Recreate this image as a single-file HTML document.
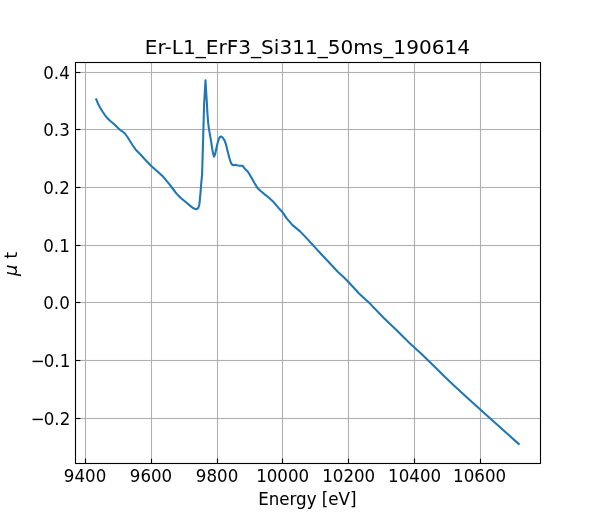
<!DOCTYPE html>
<html lang="en"><head><meta charset="utf-8"><title>Er-L1_ErF3_Si311_50ms_190614</title>
<style>html,body{margin:0;padding:0;background:#fff;overflow:hidden}svg{display:block}text{font-family:"DejaVu Sans","Liberation Sans",sans-serif;fill:#000}</style></head><body>
<svg width="600" height="520" viewBox="0 0 600 520">
<rect x="0" y="0" width="600" height="520" fill="#ffffff"/>
<g stroke="#b0b0b0" stroke-width="1.111" fill="none">
<line x1="85.5" y1="62.5" x2="85.5" y2="463.5"/>
<line x1="151.5" y1="62.5" x2="151.5" y2="463.5"/>
<line x1="217.5" y1="62.5" x2="217.5" y2="463.5"/>
<line x1="282.5" y1="62.5" x2="282.5" y2="463.5"/>
<line x1="348.5" y1="62.5" x2="348.5" y2="463.5"/>
<line x1="414.5" y1="62.5" x2="414.5" y2="463.5"/>
<line x1="480.5" y1="62.5" x2="480.5" y2="463.5"/>
<rect x="75.5" y="71.945" width="465" height="1.111" fill="#b0b0b0" stroke="none"/>
<rect x="75.5" y="128.945" width="465" height="1.111" fill="#b0b0b0" stroke="none"/>
<rect x="75.5" y="186.945" width="465" height="1.111" fill="#b0b0b0" stroke="none"/>
<rect x="75.5" y="244.945" width="465" height="1.111" fill="#b0b0b0" stroke="none"/>
<rect x="75.5" y="301.945" width="465" height="1.111" fill="#b0b0b0" stroke="none"/>
<rect x="75.5" y="359.945" width="465" height="1.111" fill="#b0b0b0" stroke="none"/>
<rect x="75.5" y="417.945" width="465" height="1.111" fill="#b0b0b0" stroke="none"/>
</g>
<polyline fill="none" stroke="#1f77b4" stroke-width="2.083" stroke-linejoin="round" stroke-linecap="square" points="96.25,99.40 98.00,103.50 100.00,107.50 102.50,111.50 105.00,115.30 107.50,118.30 110.00,120.80 112.50,122.80 115.00,125.00 117.50,127.50 120.00,129.80 122.50,131.50 125.00,133.50 126.00,135.00 127.50,137.00 129.00,139.50 132.50,145.00 136.00,150.00 140.00,154.00 145.00,159.50 151.50,166.20 157.50,171.50 163.00,176.60 166.00,180.20 169.50,184.40 173.00,189.00 176.50,193.60 180.50,197.80 186.00,202.30 190.00,205.60 193.30,208.20 196.25,209.30 198.30,207.90 199.40,204.20 200.00,198.30 200.60,191.70 201.10,185.00 201.70,178.30 202.10,175.00 202.40,163.40 203.10,140.00 203.60,122.00 204.10,105.00 204.80,92.00 205.50,80.40 206.20,92.00 207.00,105.00 207.30,111.70 207.80,118.50 208.30,123.90 209.00,129.20 210.05,135.40 211.10,141.40 212.10,148.20 213.10,153.60 214.10,156.60 215.10,154.20 216.10,149.50 217.50,143.50 218.80,138.80 220.20,136.70 221.20,136.60 222.80,137.70 224.50,140.40 225.90,144.10 227.20,149.50 228.60,154.90 229.70,159.00 230.70,162.40 232.10,164.60 233.40,165.20 235.10,164.80 237.10,165.30 239.50,165.70 241.50,165.80 242.80,165.90 244.20,167.80 245.90,169.80 247.90,171.80 249.60,174.50 251.90,178.60 254.60,183.30 257.70,188.30 261.00,191.30 265.00,194.60 269.00,197.70 273.00,201.40 278.30,207.70 282.60,212.30 286.70,218.40 292.50,225.10 300.10,231.40 306.80,238.40 313.40,245.60 321.80,254.80 331.00,264.50 338.00,272.00 343.00,276.50 348.50,282.00 354.00,288.00 359.00,293.50 365.00,299.00 370.00,303.60 383.30,317.50 396.70,330.30 410.00,343.50 421.30,353.70 427.70,360.00 434.40,366.60 445.00,377.00 455.00,386.50 470.00,400.20 485.00,413.80 518.70,443.95"/>
<g stroke="#000" stroke-width="1.111" fill="none">
<line x1="85.5" y1="463.5" x2="85.5" y2="458.64"/>
<line x1="151.5" y1="463.5" x2="151.5" y2="458.64"/>
<line x1="217.5" y1="463.5" x2="217.5" y2="458.64"/>
<line x1="282.5" y1="463.5" x2="282.5" y2="458.64"/>
<line x1="348.5" y1="463.5" x2="348.5" y2="458.64"/>
<line x1="414.5" y1="463.5" x2="414.5" y2="458.64"/>
<line x1="480.5" y1="463.5" x2="480.5" y2="458.64"/>
<line x1="75.5" y1="72.5" x2="80.36" y2="72.5"/>
<line x1="75.5" y1="129.5" x2="80.36" y2="129.5"/>
<line x1="75.5" y1="187.5" x2="80.36" y2="187.5"/>
<line x1="75.5" y1="245.5" x2="80.36" y2="245.5"/>
<line x1="75.5" y1="302.5" x2="80.36" y2="302.5"/>
<line x1="75.5" y1="360.5" x2="80.36" y2="360.5"/>
<line x1="75.5" y1="418.5" x2="80.36" y2="418.5"/>
<rect x="75.5" y="62.5" width="465" height="401" stroke-linejoin="miter"/>
</g>
<text x="307.45" y="54.07" font-size="20.090" text-anchor="middle">Er-L1_ErF3_Si311_50ms_190614</text>
<g font-size="16.667" text-anchor="middle" stroke="#000" stroke-width="0.020">
<text transform="translate(85.07,482.00) scale(1,1.070)">9400</text>
<text transform="translate(151.01,482.00) scale(1,1.070)">9600</text>
<text transform="translate(217.07,482.00) scale(1,1.070)">9800</text>
<text transform="translate(282.63,482.00) scale(1,1.070)">10000</text>
<text transform="translate(348.72,482.00) scale(1,1.070)">10200</text>
<text transform="translate(414.61,482.00) scale(1,1.070)">10400</text>
<text transform="translate(479.60,482.00) scale(1,1.070)">10600</text>
<text transform="translate(307.35,505.00) scale(1,1.070)" stroke="#000" stroke-width="0.060">Energy [eV]</text>
</g>
<g font-size="16.667" text-anchor="end">
<text transform="translate(69.74,79.00) scale(1,1.070)">0.4</text>
<text transform="translate(69.74,136.00) scale(1,1.070)">0.3</text>
<text transform="translate(69.74,194.00) scale(1,1.070)">0.2</text>
<text transform="translate(69.74,252.00) scale(1,1.070)">0.1</text>
<text transform="translate(69.74,309.00) scale(1,1.070)">0.0</text>
<text text-anchor="start" x="30.76 43.73 54.34 59.64" transform="translate(0,367.00) scale(1,1.070)">−0.1</text>
<text text-anchor="start" x="30.76 43.73 54.34 59.64" transform="translate(0,425.00) scale(1,1.070)">−0.2</text>
</g>
<text transform="translate(16.60,263.90) rotate(-90)" font-size="18.000" text-anchor="middle"><tspan font-style="oblique">μ</tspan> t</text>
</svg></body></html>
